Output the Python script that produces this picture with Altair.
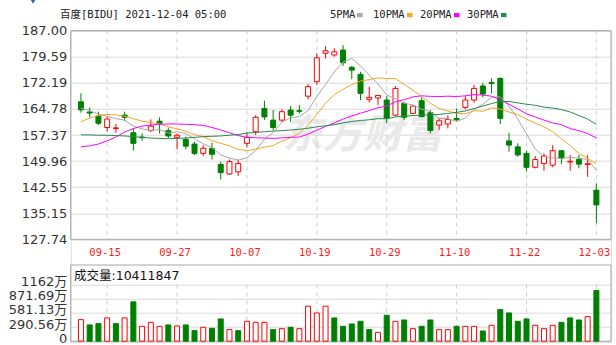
import altair as alt
import pandas as pd

# ---------------- data ----------------
dates = [
    "09-10", "09-13", "09-14", "09-15", "09-16", "09-17", "09-20", "09-21", "09-22", "09-23",
    "09-24", "09-27", "09-28", "09-29", "09-30", "10-01", "10-04", "10-05", "10-06", "10-07",
    "10-08", "10-11", "10-12", "10-13", "10-14", "10-15", "10-18", "10-19", "10-20", "10-21",
    "10-22", "10-25", "10-26", "10-27", "10-28", "10-29", "11-01", "11-02", "11-03", "11-04",
    "11-05", "11-08", "11-09", "11-10", "11-11", "11-12", "11-15", "11-16", "11-17", "11-18",
    "11-19", "11-22", "11-23", "11-24", "11-26", "11-29", "11-30", "12-01", "12-02", "12-03",
]
opens = [166.8, 163.9, 162.75, 159.5, 159.2, 163.0, 158.0, 156.8, 158.6, 161.3,
         158.6, 156.7, 156.1, 154.8, 152.15, 153.55, 149.0, 146.3, 146.9, 155.0,
         158.3, 164.9, 161.6, 161.6, 164.45, 164.3, 168.4, 172.5, 180.6, 180.1,
         181.5, 176.6, 174.6, 167.5, 167.9, 167.3, 163.0, 166.35, 163.5, 167.1,
         163.7, 160.2, 160.5, 162.1, 165.2, 167.3, 171.3, 172.3, 173.45, 155.7,
         154.0, 152.15, 148.2, 149.3, 148.8, 152.9, 149.7, 150.4, 149.0, 141.7]
highs = [169.2, 165.2, 164.0, 162.6, 160.5, 164.0, 159.25, 157.8, 161.8, 162.4,
         159.5, 157.8, 156.9, 155.5, 154.5, 155.2, 149.8, 150.4, 150.3, 158.3,
         163.0, 167.1, 164.45, 164.65, 165.6, 165.9, 171.85, 180.6, 182.6, 182.0,
         182.9, 177.0, 175.35, 171.1, 168.7, 168.4, 171.3, 166.8, 165.9, 168.05,
         164.45, 162.1, 163.0, 164.9, 168.4, 171.6, 172.2, 173.45, 173.7, 158.0,
         155.0, 152.9, 151.4, 152.15, 154.5, 153.1, 151.7, 151.7, 151.7, 143.6]
lows = [163.7, 162.4, 160.2, 158.3, 158.0, 161.4, 152.9, 155.75, 158.2, 157.8,
        156.4, 153.3, 153.3, 151.7, 151.4, 150.4, 144.75, 146.0, 145.7, 153.85,
        157.35, 161.6, 158.8, 161.1, 161.1, 163.5, 167.5, 171.6, 179.1, 179.6,
        177.0, 173.2, 167.3, 166.55, 165.9, 160.7, 162.75, 161.6, 163.3, 162.4,
        157.8, 158.8, 159.25, 161.4, 164.65, 166.55, 168.05, 169.2, 160.5, 152.6,
        151.2, 147.0, 147.9, 147.2, 148.2, 149.1, 147.2, 147.9, 145.5, 132.4]
closes = [164.5, 163.6, 160.7, 161.9, 159.4, 162.4, 155.0, 156.6, 159.9, 160.7,
          157.1, 157.3, 154.2, 152.15, 153.6, 151.9, 146.65, 149.8, 149.3, 156.7,
          162.4, 162.5, 159.5, 164.0, 163.0, 164.1, 171.1, 179.3, 181.3, 181.0,
          177.9, 175.8, 169.2, 168.05, 168.6, 162.1, 170.6, 162.4, 165.6, 162.6,
          158.6, 161.4, 161.8, 161.7, 167.3, 170.6, 169.0, 172.0, 162.1, 154.5,
          151.7, 148.2, 150.4, 151.4, 152.9, 150.7, 149.9, 149.1, 149.2, 137.5]

ma5 = [165.0, 164.3, 163.3, 162.7, 162.0, 161.6, 159.9, 159.1, 158.7, 158.9,
       157.9, 158.3, 157.8, 156.3, 154.9, 153.8, 151.7, 150.8, 150.25, 150.9,
       153.0, 156.1, 158.1, 161.0, 162.3, 162.6, 164.3, 168.3, 171.7, 175.3,
       178.1, 179.1, 177.0, 174.4, 171.9, 168.75, 167.7, 166.35, 165.9, 164.7,
       164.0, 162.1, 162.0, 161.2, 162.2, 164.6, 166.1, 168.1, 168.2, 165.6,
       161.9, 157.7, 153.4, 151.2, 150.9, 150.7, 151.1, 150.8, 150.4, 147.3]
ma10 = [161.1, 162.2, 162.9, 163.2, 163.1, 162.7, 162.0, 161.3, 160.9, 160.5,
        159.7, 159.1, 158.45, 157.5, 156.9, 155.8, 155.0, 154.3, 153.3, 152.9,
        153.4, 153.9, 154.4, 155.6, 156.6, 157.8, 160.2, 163.2, 166.4, 168.8,
        170.35, 171.7, 172.7, 173.1, 173.6, 173.4, 173.4, 171.7, 170.1, 168.3,
        166.4, 164.9, 164.2, 163.5, 163.4, 164.3, 164.1, 165.1, 164.7, 163.9,
        163.2, 161.9, 160.75, 159.7, 158.3, 156.3, 154.4, 152.1, 150.8, 149.1]
ma20 = [154.0, 154.3, 154.8, 155.7, 156.8, 158.2, 159.2, 159.9, 160.2, 160.4,
        160.5, 160.5, 160.4, 160.3, 160.1, 159.5, 158.8, 158.0, 157.2, 156.7,
        156.6, 156.5, 156.4, 156.55, 156.7, 156.8, 157.6, 158.75, 159.8, 160.8,
        161.9, 162.8, 163.55, 164.3, 165.1, 165.6, 166.8, 167.4, 168.2, 168.5,
        168.35, 168.3, 168.4, 168.3, 168.5, 168.85, 168.7, 168.4, 167.4, 166.1,
        164.8, 163.4, 162.5, 161.6, 160.8, 160.3, 159.2, 158.6, 157.8, 156.5]
ma30 = [157.4, 157.4, 157.3, 157.3, 157.2, 157.1, 156.9, 156.7, 156.5, 156.4,
        156.3, 156.4, 156.5, 156.7, 156.9, 157.0, 157.1, 157.3, 157.5, 157.9,
        158.1, 158.3, 158.5, 158.6, 158.8, 159.0, 159.3, 159.7, 160.0, 160.3,
        160.8, 161.2, 161.5, 161.7, 162.0, 162.0, 162.5, 162.7, 162.9, 163.0,
        163.1, 163.2, 163.5, 163.8, 164.2, 164.9, 165.6, 166.3, 166.9, 166.9,
        166.5, 166.1, 165.8, 165.3, 165.0, 164.6, 163.9, 162.9, 161.9, 160.4]

# volume in 万 (10,000 shares)
volumes = [442, 333, 360, 477, 360, 477, 806, 305, 387, 305,
           333, 312, 333, 216, 285, 264, 456, 237, 216, 408,
           387, 387, 237, 257, 285, 257, 717, 579, 717, 477,
           305, 353, 408, 237, 182, 531, 408, 435, 257, 305,
           435, 237, 237, 305, 305, 305, 209, 326, 648, 579,
           408, 456, 326, 257, 326, 387, 477, 435, 504, 1041.1847]
vol_dir = ["up", "down", "down", "up", "down", "up", "down", "up", "up", "up",
           "down", "up", "down", "down", "up", "down", "down", "up", "down", "up",
           "up", "up", "down", "up", "down", "up", "up", "up", "up", "down",
           "down", "down", "down", "down", "up", "down", "up", "down", "up", "down",
           "down", "up", "up", "down", "up", "up", "down", "up", "down", "down",
           "down", "down", "up", "up", "up", "down", "down", "down", "up", "down"]

price_ticks = [127.74, 135.15, 142.55, 149.96, 157.37, 164.78, 172.19, 179.59, 187.00]
vol_ticks = [0, 290.56, 581.13, 871.69, 1162]
tick_labels = ["09-15", "09-27", "10-07", "10-19", "10-29", "11-10", "11-22", "12-03"]
ma_names = ["5PMA", "10PMA", "20PMA", "30PMA"]
title_text = "百度[BIDU] 2021-12-04 05:00"
watermark_text = "东方财富"

# ---------------- tables ----------------
n = len(dates)
candles = pd.DataFrame({"i": range(n), "date": dates, "open": opens, "high": highs,
                        "low": lows, "close": closes})
candles["dir"] = ["up" if c >= o else "down" for o, c in zip(opens, closes)]

ma_series = [ma5, ma10, ma20, ma30]
vol_df = pd.DataFrame({"i": range(n), "vol": volumes, "dir": vol_dir})
ticks_df = pd.DataFrame({"label": tick_labels, "i": [dates.index(t) for t in tick_labels]})
one = pd.DataFrame({"k": [0]})

# ---------------- layout constants ----------------
W = 540.3
H = 311
MAIN_H = 208.6
VOL_TOP = 234.3
VOL_GRID_TOP = 253.8
VOL_BOTTOM = 310.5

RED = "#ff0000"
GREEN = "#008000"
MA_COLORS = ["#a8a8a8", "#f5a623", "#ff00ff", "#2a8a4e"]
LABEL_FONT = "DejaVu Sans, Noto Sans CJK SC"
MONO_FONT = "DejaVu Sans Mono, Noto Sans CJK SC"

xs = alt.Scale(domain=[-0.6, 60.1], nice=False, zero=False)
ps = alt.Scale(domain=[127.74, 187.0], range=[MAIN_H, 0], nice=False, zero=False)
vs = alt.Scale(domain=[0, 1162], range=[VOL_BOTTOM, VOL_GRID_TOP], nice=False)

stroke_scale = alt.Scale(domain=["up", "down"], range=[RED, GREEN])
fill_scale = alt.Scale(domain=["up", "down"], range=["#ffffff", GREEN])

X = alt.X("i:Q", scale=xs, axis=None)

price_axis = alt.Axis(values=price_ticks, format=".2f", orient="left", grid=True,
                      gridColor="#d9d9d9", gridWidth=1, domain=False, ticks=False,
                      labelPadding=4, labelFont=LABEL_FONT, labelFontSize=13,
                      labelColor="#333333", labelOverlap=False, title=None)
vol_axis = alt.Axis(values=vol_ticks, orient="left", grid=True, gridColor="#d9d9d9",
                    domain=False, ticks=False, labelPadding=4, labelFont=LABEL_FONT,
                    labelFontSize=13, labelColor="#333333", labelOverlap=False,
                    labelOffset=-3, title=None,
                    labelExpr="datum.value == 0 ? '0' : toString(datum.value) + '万'")

# frames
frames = alt.layer(
    alt.Chart(one).mark_rect(fillOpacity=0, stroke="#a6a6a6", strokeWidth=1).encode(
        x=alt.value(0), x2=alt.value(W), y=alt.value(0), y2=alt.value(MAIN_H)),
    alt.Chart(one).mark_rect(fillOpacity=0, stroke="#a6a6a6", strokeWidth=1).encode(
        x=alt.value(0), x2=alt.value(W), y=alt.value(VOL_TOP), y2=alt.value(VOL_BOTTOM)),
)

# watermark
watermark = alt.Chart(one).mark_text(
    font="Noto Sans CJK SC", fontSize=40, fontWeight="bold", fontStyle="italic",
    color="#e9e9e9", align="center", baseline="middle"
).encode(x=alt.value(291.8), y=alt.value(105.3), text=alt.value(watermark_text))

# vertical dashed grid lines at date ticks
vgrid_main = alt.Chart(ticks_df).mark_rule(color="#cfcfcf", strokeDash=[4, 4], strokeWidth=1).encode(
    x=X, y=alt.value(0), y2=alt.value(MAIN_H))
vgrid_vol = alt.Chart(ticks_df).mark_rule(color="#cfcfcf", strokeDash=[4, 4], strokeWidth=1).encode(
    x=X, y=alt.value(VOL_GRID_TOP), y2=alt.value(VOL_BOTTOM))

date_labels = alt.Chart(ticks_df).mark_text(
    font=MONO_FONT, fontSize=10.5, color="#ff1a1a", align="center", baseline="middle", dx=-2
).encode(x=X, y=alt.value(222), text="label:N")

# candles
wicks = alt.Chart(candles).mark_rule(strokeWidth=1).encode(
    x=X,
    y=alt.Y("low:Q", scale=ps, axis=price_axis),
    y2="high:Q",
    stroke=alt.Stroke("dir:N", scale=stroke_scale, legend=None),
)
bodies = alt.Chart(candles).mark_bar(size=5, strokeWidth=1).encode(
    x=X,
    y=alt.Y("open:Q", scale=ps, axis=None),
    y2="close:Q",
    fill=alt.Fill("dir:N", scale=fill_scale, legend=None),
    stroke=alt.Stroke("dir:N", scale=stroke_scale, legend=None),
)

ma_layers = []
for name, vals, col in zip(ma_names, ma_series, MA_COLORS):
    df = pd.DataFrame({"i": range(n), "value": vals})
    ma_layers.append(alt.Chart(df).mark_line(strokeWidth=1, color=col).encode(
        x=X, y=alt.Y("value:Q", scale=ps, axis=None)))

vol_bars = alt.Chart(vol_df).mark_bar(size=5, strokeWidth=1).encode(
    x=X,
    y=alt.Y("vol:Q", scale=vs, axis=vol_axis),
    fill=alt.Fill("dir:N", scale=fill_scale, legend=None),
    stroke=alt.Stroke("dir:N", scale=stroke_scale, legend=None),
)

# header texts
title = alt.Chart(one).mark_text(font=MONO_FONT, fontSize=10.5, color="#222222",
                                 align="left", baseline="middle").encode(
    x=alt.value(-10.7), y=alt.value(-15.7), text=alt.value(title_text))

vol_header = alt.Chart(one).mark_text(font=LABEL_FONT, fontSize=12.5, color="#111111",
                                      align="left", baseline="middle").encode(
    x=alt.value(3.3), y=alt.value(245), text=alt.value("成交量:" + str(int(round(volumes[-1] * 10000)))))

legend_layers = []
text_x = [259.3, 302.3, 349.3, 396.3]
box_x = [286.3, 336.3, 383.3, 430.3]
for name, col, tx, bx in zip(ma_names, MA_COLORS, text_x, box_x):
    legend_layers.append(alt.Chart(one).mark_text(
        font=MONO_FONT, fontSize=10.5, color="#222222", align="left", baseline="middle"
    ).encode(x=alt.value(tx), y=alt.value(-15.7), text=alt.value(name)))
    legend_layers.append(alt.Chart(one).mark_rect(color=col).encode(
        x=alt.value(bx), x2=alt.value(bx + 5.5), y=alt.value(-17.7), y2=alt.value(-13.5)))

marker = alt.Chart(one).mark_point(shape="triangle-down", filled=True, size=60,
                                   color="#3a5aa8", opacity=1).encode(
    x=alt.value(-37.7), y=alt.value(-30.2))

chart = alt.layer(
    watermark, vgrid_main, vgrid_vol, frames, wicks, bodies, *ma_layers, vol_bars,
    date_labels, title, vol_header, marker, *legend_layers
).resolve_scale(
    y="independent"
).properties(
    width=W, height=H,
    padding={"left": 70.7, "top": 30.7, "right": 5, "bottom": 3.3},
    autosize=alt.AutoSizeParams(type="none"),
).configure_view(stroke=None).configure(background="#ffffff")

chart.save("out.html", embed_options={"renderer": "svg", "actions": False})
